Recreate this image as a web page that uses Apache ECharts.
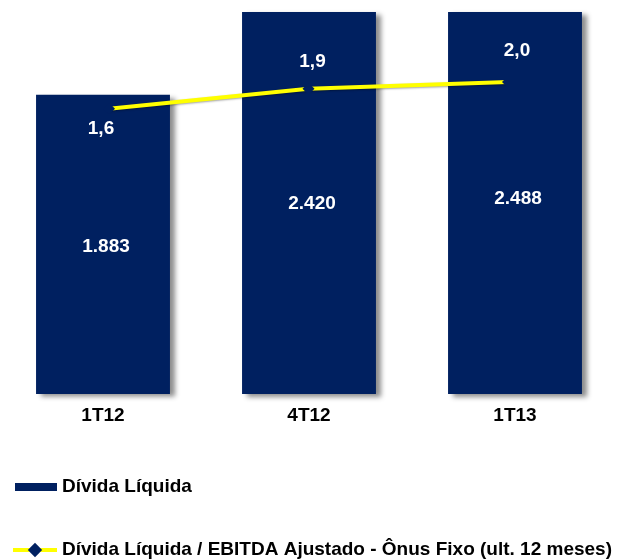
<!DOCTYPE html>
<html>
<head>
<meta charset="utf-8">
<script src="https://cdn.jsdelivr.net/npm/echarts@6/dist/echarts.min.js"></script>
<style>
html,body{margin:0;padding:0;background:#fff;}
#chart{width:625px;height:559px;}
</style>
</head>
<body>
<div id="chart"></div>
<script>
var categories = ['1T12', '4T12', '1T13'];
var dividaLiquida = [1883, 2420, 2488];
var dividaLabels = ['1.883', '2.420', '2.488'];
var ratio = [1.6, 1.9, 2.0];
var ratioLabels = ['1,6', '1,9', '2,0'];
var barName = 'Dívida Líquida';
var lineName = 'Dívida Líquida / EBITDA Ajustado - Ônus Fixo (ult. 12 meses)';

var barLabelOffsets = [[3, 2], [3, 1], [3, -4]];
var lineLabelOffsets = [[-8, 20], [4, -27], [9, -31]];

var NAVY = '#002060';
var YELLOW = '#FFFF00';
var FONT = 'Liberation Sans';

var chart = echarts.init(document.getElementById('chart'), null, {renderer: 'canvas'});

var barData = dividaLiquida.map(function (v, i) {
  return {value: v, label: {offset: barLabelOffsets[i], formatter: dividaLabels[i]}};
});
var lineData = ratio.map(function (v, i) {
  return {value: v, label: {offset: lineLabelOffsets[i], formatter: ratioLabels[i]}};
});

chart.setOption({
  backgroundColor: '#ffffff',
  animation: false,
  textStyle: {fontFamily: FONT},
  grid: [
    {left: 0, right: 7, top: 12, bottom: 165, containLabel: false},
    {left: 9.25, right: 17.25, top: 12, bottom: 165, containLabel: false}
  ],
  xAxis: [
    {
      type: 'category', gridIndex: 0, data: categories,
      axisLine: {show: false}, axisTick: {show: false},
      axisLabel: {margin: 12, color: '#000', fontFamily: FONT, fontWeight: 'bold', fontSize: 19}
    },
    {
      type: 'category', gridIndex: 1, data: categories, show: false
    }
  ],
  yAxis: [
    {type: 'value', gridIndex: 0, min: 0, max: 2403, show: false, splitLine: {show: false}},
    {type: 'value', gridIndex: 1, min: -2.67, max: 3.05, show: false, splitLine: {show: false}}
  ],
  legend: [
    {
      data: [{name: barName, icon: 'rect'}],
      left: 15, top: 476, itemWidth: 42, itemHeight: 8, padding: 0,
      textStyle: {color: '#000', fontFamily: FONT, fontWeight: 'bold', fontSize: 19, lineHeight: 22}
    },
    {
      data: [{name: lineName}],
      left: 11, top: 539, itemWidth: 44, itemHeight: 18, padding: 0,
      lineStyle: {width: 4, color: YELLOW, shadowBlur: 0, shadowColor: 'transparent'},
      itemStyle: {color: NAVY},
      textStyle: {color: '#000', fontFamily: FONT, fontWeight: 'bold', fontSize: 19, lineHeight: 22}
    }
  ],
  series: [
    {
      name: barName, type: 'bar', xAxisIndex: 0, yAxisIndex: 0,
      data: barData, barCategoryGap: '35%',
      itemStyle: {
        color: NAVY,
        shadowColor: 'rgba(0,0,0,0.45)', shadowBlur: 5, shadowOffsetX: 5, shadowOffsetY: 3
      },
      label: {
        show: true, position: 'inside', color: '#fff',
        fontFamily: FONT, fontWeight: 'bold', fontSize: 19
      }
    },
    {
      name: lineName, type: 'line', xAxisIndex: 1, yAxisIndex: 1,
      data: lineData, symbol: 'diamond', symbolSize: 12,
      itemStyle: {color: NAVY},
      lineStyle: {color: YELLOW, width: 4, shadowColor: 'rgba(0,0,0,0.35)', shadowBlur: 2, shadowOffsetY: 1},
      label: {
        show: true, position: 'inside', color: '#fff',
        fontFamily: FONT, fontWeight: 'bold', fontSize: 19
      },
      z: 5
    }
  ]
});
</script>
</body>
</html>
